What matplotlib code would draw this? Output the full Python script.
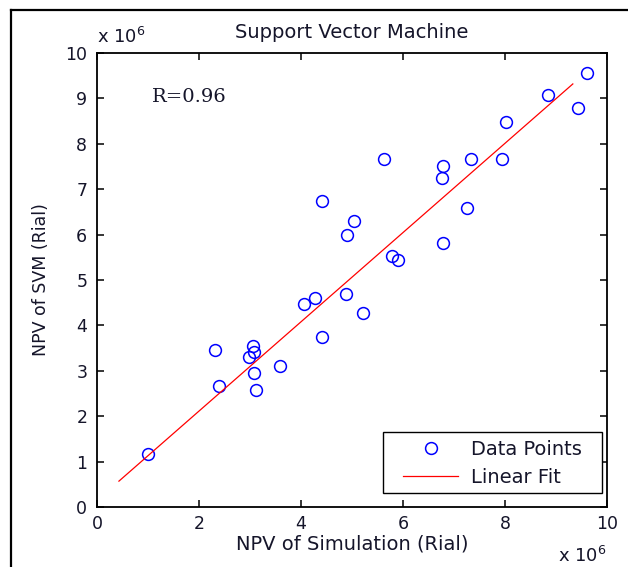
import numpy as np
import matplotlib.pyplot as plt
from matplotlib.lines import Line2D
from matplotlib.patches import Rectangle

# NPV values, units of 1e6 Rial
npv_sim = [1.00, 2.39, 2.31, 3.06, 3.08, 2.98, 3.08, 3.12, 3.59, 4.06,
           4.27, 4.88, 4.41, 5.22, 4.41, 5.04, 4.90, 5.63, 5.78, 5.90,
           6.78, 6.76, 6.78, 7.25, 7.33, 7.94, 8.02, 8.84, 9.43, 9.61]
npv_svm = [1.17, 2.67, 3.46, 3.55, 3.41, 3.30, 2.95, 2.58, 3.11, 4.47,
           4.60, 4.69, 3.74, 4.27, 6.74, 6.30, 5.99, 7.67, 5.53, 5.44,
           7.51, 7.25, 5.81, 6.59, 7.67, 7.67, 8.48, 9.07, 8.79, 9.56]

# linear fit y = a*x + b over its plotted span
fit_slope = 0.983
fit_intercept = 0.147
fit_span = [0.43, 9.33]
r_value = 0.96

plt.rcParams["font.family"] = ["DejaVu Sans"]
plt.rcParams["mathtext.default"] = "regular"
txt_color = "#15152a"

W, H = 628, 567
fig = plt.figure(figsize=(W / 100, H / 100), dpi=100)
ax = fig.add_axes([97 / W, (H - 507) / H, 510 / W, 454 / H])

ax.plot(npv_sim, npv_svm, "o", mfc="none", mec="blue", mew=1.1, ms=8.5,
        linestyle="none", label="Data Points")
fx = np.array(fit_span)
ax.plot(fx, fit_slope * fx + fit_intercept, color="red", lw=0.9, label="Linear Fit")

ax.set_xlim(0, 10)
ax.set_ylim(0, 10)
ax.set_xticks(range(0, 11, 2))
ax.set_yticks(range(0, 11, 1))
ax.tick_params(direction="in", top=True, right=True, length=5, width=1.1,
               labelsize=12.5, colors="black", labelcolor=txt_color)
ax.tick_params(axis="x", pad=6)
ax.tick_params(axis="y", pad=7)
for sp in ax.spines.values():
    sp.set_linewidth(1.3)

ax.set_title("Support Vector Machine", fontsize=14, color=txt_color, pad=11)
ax.set_xlabel("NPV of Simulation (Rial)", fontsize=14, color=txt_color, labelpad=1)
ax.set_ylabel("NPV of SVM (Rial)", fontsize=12.5, color=txt_color, labelpad=11)

ax.text(0.0, 1.013, "x 10$^{6}$", transform=ax.transAxes, fontsize=13,
        color=txt_color, ha="left", va="bottom")
ax.text(1.0, -0.122, "x 10$^{6}$", transform=ax.transAxes, fontsize=13,
        color=txt_color, ha="right", va="baseline")

ax.text(0.108, 0.902, f"R={r_value:.2f}", transform=ax.transAxes, fontsize=14,
        family="DejaVu Serif", color=txt_color, ha="left", va="center")

# legend box drawn separately, entries placed inside it
ax.add_patch(Rectangle((0.561, 0.031), 0.429, 0.134, transform=ax.transAxes,
                       facecolor="white", edgecolor="black", lw=1.0, zorder=4))
leg = ax.legend(loc="center left", bbox_to_anchor=(0.600, 0.096), borderaxespad=0,
                fontsize=14, frameon=False, handlelength=2.85, handletextpad=0.65,
                labelspacing=0.5, borderpad=0)
leg.set_zorder(5)
for t in leg.get_texts():
    t.set_color(txt_color)

# outer frame line on the left and top
fig.add_artist(Line2D([11 / W, 11 / W], [0, 1 - 10 / H], transform=fig.transFigure,
                      color="black", lw=1.6))
fig.add_artist(Line2D([11 / W, 1], [1 - 10 / H, 1 - 10 / H], transform=fig.transFigure,
                      color="black", lw=1.6))

fig.savefig("out.png", dpi=100)
